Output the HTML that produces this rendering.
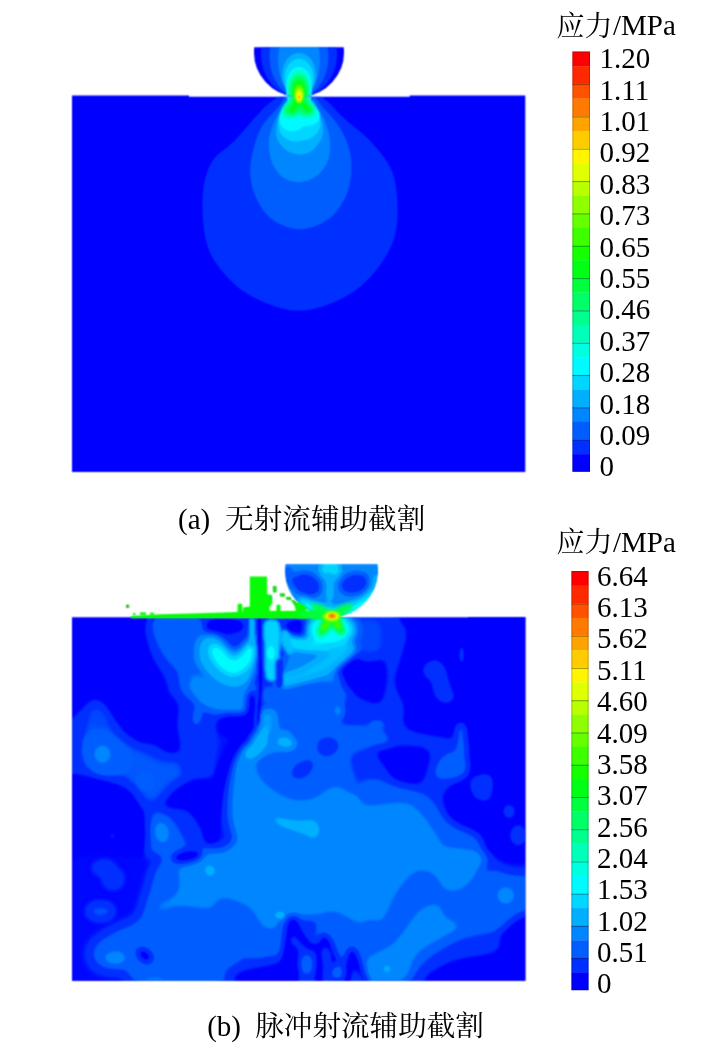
<!DOCTYPE html>
<html lang="zh"><head><meta charset="utf-8"><title>应力云图</title>
<style>
html,body{margin:0;padding:0;background:#fff}
body{width:707px;height:1055px;overflow:hidden;position:relative}
svg{position:absolute;left:0;top:0;display:block}
text{font-family:"Liberation Serif","Noto Serif CJK SC",serif;fill:#000}
</style></head><body>
<svg width="707" height="1055" viewBox="0 0 707 1055">
<defs>
<filter id="soft" x="0" y="0" width="707" height="1055" filterUnits="userSpaceOnUse" color-interpolation-filters="sRGB"><feConvolveMatrix order="3" kernelMatrix="1 2 1 2 4 2 1 2 1" divisor="16" edgeMode="none" preserveAlpha="false"/></filter>
<filter id="b1" x="0" y="0" width="707" height="1055" filterUnits="userSpaceOnUse" color-interpolation-filters="sRGB"><feGaussianBlur stdDeviation="1.2"/></filter>
<filter id="b3" x="0" y="0" width="707" height="1055" filterUnits="userSpaceOnUse" color-interpolation-filters="sRGB"><feGaussianBlur stdDeviation="3"/></filter>
<filter id="b5" x="0" y="0" width="707" height="1055" filterUnits="userSpaceOnUse" color-interpolation-filters="sRGB"><feGaussianBlur stdDeviation="5"/></filter>
<clipPath id="clipA"><path d="M72 95.6H189V96.7H409.7V95.6H525.3V472H72Z"/><path d="M254.25 47.2H343.75A45 45 0 1 1 254.25 47.2Z"/></clipPath>
<clipPath id="clipS"><path d="M285.47 564H377.53A46.5 46.5 0 1 1 285.47 564Z"/><rect x="326" y="614" width="15" height="4"/></clipPath>
<clipPath id="clipH"><path d="M285.47 564H377.53A46.5 46.5 0 1 1 285.47 564Z"/><rect x="72" y="617.5" width="453.6" height="363.3"/><rect x="290" y="605" width="40" height="14"/><rect x="326" y="614" width="15" height="4"/></clipPath>
<filter id="b2" x="0" y="0" width="707" height="1055" filterUnits="userSpaceOnUse" color-interpolation-filters="sRGB"><feGaussianBlur stdDeviation="2"/></filter>
<clipPath id="clipB"><path d="M72 617.6H468V616.9H525.4V980.8H72Z"/></clipPath>
<radialGradient id="lobe" cx="0.5" cy="0.5" r="0.5"><stop offset="0.000" stop-color="#00ff14"/><stop offset="0.350" stop-color="#00ff3d"/><stop offset="0.700" stop-color="#00ffb8"/><stop offset="1.000" stop-color="#00faff"/></radialGradient>
<radialGradient id="coreA" cx="0.5" cy="0.5" r="0.5" fx="0.52" fy="0.68"><stop offset="0" stop-color="#ff5500"/><stop offset="0.08" stop-color="#ffaa00"/><stop offset="0.22" stop-color="#ffff00"/><stop offset="0.5" stop-color="#aaff00"/><stop offset="0.8" stop-color="#33ff00"/><stop offset="1" stop-color="#00ff00" stop-opacity="0"/></radialGradient>
<radialGradient id="hotA" cx="0.5" cy="0.5" r="0.5" fx="0.5" fy="0.55">
<stop offset="0.000" stop-color="#14ff00"/><stop offset="0.400" stop-color="#00ff14"/><stop offset="0.620" stop-color="#00ff66"/><stop offset="0.800" stop-color="#00ffb8"/><stop offset="1.000" stop-color="#00faff"/>
</radialGradient>
</defs>

<clipPath id="sphA"><rect x="240" y="40" width="120" height="57"/></clipPath>
<g filter="url(#soft)"><g clip-path="url(#clipA)"><rect x="60" y="40" width="480" height="440" fill="#0000ff"/>
<path d="M278.4 96.8C273.6 99.9 268.9 103.1 261.5 110.4C254.2 117.8 242.5 132.4 234.3 140.9C226.1 149.4 217.4 152.8 212.2 161.3C207.0 169.8 204.4 179.9 203.1 191.8C201.8 203.7 202.6 221.3 204.4 232.6C206.2 243.9 208.4 250.6 213.9 259.7C219.4 268.8 228.6 279.5 237.7 286.9C246.8 294.3 258.1 299.9 268.3 303.9C278.5 307.8 288.6 310.6 298.8 310.6C309.0 310.6 319.2 307.8 329.4 303.9C339.6 299.9 350.8 294.3 359.9 286.9C368.9 279.5 377.8 268.8 383.7 259.7C389.6 250.6 393.2 242.8 395.5 232.6C397.8 222.4 398.0 209.3 397.2 198.6C396.4 187.8 395.0 177.7 390.5 168.1C386.0 158.5 378.0 149.4 370.1 140.9C362.2 132.4 350.2 124.0 342.9 117.2C335.5 110.4 331.5 104.4 326.0 100.2C320.5 96.0 316.0 93.4 310.0 92.0C304.0 90.6 295.3 91.2 290.0 92.0C284.7 92.8 283.1 93.7 278.4 96.8Z" fill="#0030ff"/>
<path d="M278.4 107.0C274.0 112.2 265.7 120.0 261.5 127.3C257.3 134.7 254.9 143.2 253.0 151.1C251.1 159.0 249.7 167.0 250.3 174.9C250.9 182.8 252.8 191.2 256.4 198.6C259.9 205.9 264.5 213.9 271.6 219.0C278.7 224.1 289.7 228.9 298.8 229.2C307.9 229.5 318.6 225.2 326.0 220.7C333.4 216.2 338.8 209.1 342.9 202.0C347.0 194.9 349.6 186.8 350.7 178.3C351.8 169.8 351.6 159.6 349.7 151.1C347.8 142.6 344.0 134.7 339.5 127.3C335.0 120.0 327.2 112.2 322.6 107.0C318.0 101.8 317.8 97.8 312.0 96.0C306.2 94.2 293.6 94.2 288.0 96.0C282.4 97.8 282.8 101.8 278.4 107.0Z" fill="#005eff"/>
<path d="M280.1 110.4C277.3 114.7 275.2 118.8 273.3 123.9C271.4 129.0 269.2 134.7 268.9 140.9C268.6 147.1 269.5 155.4 271.6 161.3C273.8 167.2 277.3 173.1 281.8 176.6C286.3 180.1 293.1 182.3 298.8 182.3C304.5 182.3 311.0 180.1 315.8 176.6C320.6 173.1 325.3 167.2 327.7 161.3C330.1 155.4 330.3 147.1 330.0 140.9C329.7 134.7 327.8 129.0 326.0 123.9C324.2 118.8 321.9 114.7 319.2 110.4C316.5 106.1 314.9 100.1 310.0 98.0C305.1 95.9 295.0 95.9 290.0 98.0C285.0 100.1 282.9 106.1 280.1 110.4Z" fill="#0086ff"/>
<path d="M282.0 108.0C279.6 112.3 277.6 119.0 276.7 123.9C275.8 128.8 275.3 133.2 276.7 137.5C278.1 141.8 281.5 146.6 285.2 149.4C288.9 152.2 294.3 154.3 298.8 154.5C303.3 154.7 308.5 153.2 312.4 150.4C316.2 147.6 320.2 141.9 321.9 137.5C323.6 133.1 323.4 128.8 322.6 123.9C321.8 119.0 319.4 112.3 317.0 108.0C314.6 103.7 312.3 99.7 308.0 98.0C303.7 96.3 295.3 96.3 291.0 98.0C286.7 99.7 284.4 103.7 282.0 108.0Z" fill="#00b0ff"/>
<path d="M283.0 110.0C280.9 114.0 278.7 118.0 278.4 122.0C278.1 126.0 279.1 130.9 281.0 134.0C282.9 137.1 286.8 139.3 290.0 140.5C293.2 141.7 296.5 141.4 300.0 141.0C303.5 140.6 307.8 139.8 311.0 138.0C314.2 136.2 317.5 133.0 319.0 130.0C320.5 127.0 320.5 123.3 320.0 120.0C319.5 116.7 318.0 113.7 316.0 110.0C314.0 106.3 312.2 100.0 308.0 98.0C303.8 96.0 295.2 96.0 291.0 98.0C286.8 100.0 285.1 106.0 283.0 110.0Z" fill="#00d6ff"/>
<path d="M285.0 106.0C282.8 109.2 280.0 112.5 279.5 116.0C279.0 119.5 280.2 124.5 282.0 127.0C283.8 129.5 287.3 130.5 290.0 131.0C292.7 131.5 295.5 130.8 298.0 130.0C300.5 129.2 302.5 126.8 305.0 126.0C307.5 125.2 310.7 126.0 313.0 125.0C315.3 124.0 318.0 122.2 319.0 120.0C320.0 117.8 320.0 114.5 319.0 112.0C318.0 109.5 315.2 107.5 313.0 105.0C310.8 102.5 309.3 98.3 306.0 97.0C302.7 95.7 296.5 95.5 293.0 97.0C289.5 98.5 287.2 102.8 285.0 106.0Z" fill="#00faff"/>
<ellipse cx="299.0" cy="55.0" rx="38.0" ry="42.0" fill="#0030ff" clip-path="url(#sphA)"/>
<ellipse cx="299.0" cy="57.0" rx="29.5" ry="40.0" fill="#005eff" clip-path="url(#sphA)"/>
<ellipse cx="299.0" cy="60.0" rx="21.0" ry="37.0" fill="#0086ff" clip-path="url(#sphA)"/>
<ellipse cx="299.0" cy="75.0" rx="17.0" ry="22.3" fill="#00b0ff" clip-path="url(#sphA)"/>
<ellipse cx="299.0" cy="78.0" rx="14.5" ry="19.3" fill="#00d6ff" clip-path="url(#sphA)"/>
<ellipse cx="299.0" cy="82.0" rx="12.0" ry="15.0" fill="#00faff" clip-path="url(#sphA)"/>
<ellipse cx="299" cy="90" rx="13" ry="22" fill="url(#hotA)"/>
<g filter="url(#b1)"><path d="M292.0 96.0C289.1 96.8 290.3 99.3 289.0 101.0C287.7 102.7 285.2 104.2 284.0 106.0C282.8 107.8 281.5 110.2 281.5 112.0C281.5 113.8 282.4 115.9 284.0 117.0C285.6 118.1 288.5 118.5 291.0 118.5C293.5 118.5 296.3 117.1 299.0 117.0C301.7 116.9 304.5 118.1 307.0 118.0C309.5 117.9 312.3 117.7 314.0 116.5C315.7 115.3 317.0 112.9 317.0 111.0C317.0 109.1 315.3 106.8 314.0 105.0C312.7 103.2 310.2 101.5 309.0 100.0C307.8 98.5 309.3 96.7 306.5 96.0C303.7 95.3 294.9 95.2 292.0 96.0Z" fill="#00ffb8"/><path d="M293.0 97.0C290.5 97.7 291.6 99.6 290.5 101.0C289.4 102.4 287.5 104.0 286.5 105.5C285.5 107.0 284.5 108.7 284.5 110.0C284.5 111.3 285.2 112.7 286.5 113.5C287.8 114.3 289.9 115.2 292.0 115.0C294.1 114.8 296.7 112.6 299.0 112.5C301.3 112.4 303.9 114.4 306.0 114.5C308.1 114.6 310.3 113.9 311.5 113.0C312.7 112.1 313.1 110.4 313.0 109.0C312.9 107.6 311.9 105.9 311.0 104.5C310.1 103.1 308.4 101.8 307.5 100.5C306.6 99.2 307.9 97.6 305.5 97.0C303.1 96.4 295.5 96.3 293.0 97.0Z" fill="#00ff66"/><path d="M297.0 99.0C296.1 99.2 295.2 101.5 294.0 103.0C292.8 104.5 290.8 106.5 290.0 108.0C289.2 109.5 288.9 111.2 289.5 112.0C290.1 112.8 292.2 113.2 293.5 112.5C294.8 111.8 296.0 109.8 297.0 108.0C298.0 106.2 299.5 103.5 299.5 102.0C299.5 100.5 297.9 98.8 297.0 99.0Z" fill="#00ff14"/><path d="M300.0 99.0C299.1 99.1 299.0 101.5 299.5 103.0C300.0 104.5 301.8 106.4 303.0 108.0C304.2 109.6 305.8 111.9 307.0 112.5C308.2 113.1 309.7 112.3 310.0 111.5C310.3 110.7 309.8 109.0 309.0 107.5C308.2 106.0 306.5 103.9 305.0 102.5C303.5 101.1 300.9 98.9 300.0 99.0Z" fill="#00ff14"/></g>
<ellipse cx="299" cy="93.5" rx="6.5" ry="11.5" fill="url(#coreA)"/></g></g>
<defs><filter id="cmB" x="0" y="0" width="707" height="1055" filterUnits="userSpaceOnUse" color-interpolation-filters="sRGB">
<feComponentTransfer><feFuncR type="table" tableValues="0.0000 0.0000 0.0000 0.0000 0.0000 0.0000 0.0000 0.0000 0.0000 0.0000 0.0000 0.0000 0.0000 0.0000 0.0000 0.0000 0.0000 0.0000 0.0000 0.0000 0.0000 0.0000 0.0000 0.0000 0.0000 0.0000 0.0000 0.0000 0.0000 0.0000 0.0000 0.0000"/><feFuncG type="table" tableValues="0.0000 0.0000 0.0000 0.0000 0.1882 0.1882 0.1882 0.1882 0.3686 0.3686 0.3686 0.3686 0.5255 0.5255 0.5255 0.5255 0.6902 0.6902 0.6902 0.6902 0.8392 0.8392 0.8392 0.8392 0.9804 0.9804 0.9804 0.9804 1.0000 1.0000 1.0000 1.0000"/><feFuncB type="table" tableValues="1.0000 1.0000 1.0000 1.0000 1.0000 1.0000 1.0000 1.0000 1.0000 1.0000 1.0000 1.0000 1.0000 1.0000 1.0000 1.0000 1.0000 1.0000 1.0000 1.0000 1.0000 1.0000 1.0000 1.0000 1.0000 1.0000 1.0000 1.0000 0.8784 0.8784 0.8784 0.8784"/></feComponentTransfer>
<feConvolveMatrix order="3" kernelMatrix="1 2 1 2 4 2 1 2 1" divisor="16" edgeMode="none" preserveAlpha="false"/></filter></defs>
<g filter="url(#cmB)"><g clip-path="url(#clipB)">
<rect x="60" y="600" width="480" height="400" fill="#0c0c0c"/>
<g filter="url(#b5)"><rect x="60" y="600" width="480" height="400" fill="#2d2d2d"/>
<path d="M61.0 610.0C74.9 592.3 130.5 606.2 144.7 610.0C158.8 613.8 144.3 624.3 145.8 632.6C147.3 640.9 150.5 652.2 153.7 659.8C156.9 667.3 162.4 671.1 165.0 677.9C167.7 684.7 168.4 691.3 169.5 700.5C170.7 709.7 177.1 725.8 171.8 733.3C166.5 740.8 146.2 745.9 137.9 745.7C129.6 745.6 125.8 737.1 122.0 732.2C118.3 727.3 117.9 721.6 115.2 716.3C112.6 711.1 110.3 703.1 106.2 700.5C102.1 697.9 94.9 698.6 90.4 700.5C85.8 702.4 84.0 709.2 79.0 711.8C74.1 714.4 64.0 733.3 61.0 716.3C57.9 699.4 47.0 627.7 61.0 610.0Z" fill="#0c0c0c"/>
<path d="M151.4 616.8C157.1 613.4 180.1 613.4 187.6 616.8C195.2 620.2 195.9 630.0 196.7 637.1C197.5 644.3 195.6 654.5 192.2 659.8C188.8 665.1 181.2 669.6 176.3 668.8C171.4 668.1 166.5 660.5 162.8 655.2C159.0 650.0 155.6 643.6 153.7 637.1C151.8 630.7 145.8 620.2 151.4 616.8Z" fill="#4b4b4b"/>
<path d="M182.3 623.6C186.0 614.1 198.5 619.0 202.6 621.3C206.8 623.6 206.8 629.6 207.1 637.1C207.5 644.7 205.6 657.9 204.9 666.6C204.1 675.2 205.6 684.3 202.6 689.2C199.6 694.1 190.6 697.9 186.8 696.0C183.0 694.1 180.8 689.9 180.0 677.9C179.2 665.8 178.5 633.0 182.3 623.6Z" fill="#585858"/>
<path d="M193.6 677.9C196.6 675.6 203.4 676.0 209.4 677.9C215.4 679.8 223.4 688.1 229.8 689.2C236.2 690.3 243.7 684.7 247.9 684.7C252.0 684.7 253.5 684.7 254.7 689.2C255.8 693.7 257.7 707.3 254.7 711.8C251.6 716.3 243.3 716.3 236.6 716.3C229.8 716.3 220.3 713.7 213.9 711.8C207.5 709.9 201.9 708.4 198.1 705.0C194.3 701.6 192.1 696.0 191.3 691.4C190.6 686.9 190.6 680.1 193.6 677.9Z" fill="#6f6f6f"/>
<path d="M286.3 655.2C288.8 650.0 292.7 643.6 297.6 641.7C302.5 639.8 308.2 643.9 315.7 643.9C323.3 643.9 338.4 634.9 342.9 641.7C347.4 648.5 347.4 677.1 342.9 684.7C338.4 692.2 324.8 686.9 315.7 686.9C306.7 686.9 294.1 686.9 288.6 684.7C283.1 682.4 283.3 678.3 282.9 673.3C282.6 668.4 283.9 660.5 286.3 655.2Z" fill="#6f6f6f"/>
<path d="M266.0 686.9C278.8 683.9 330.1 682.4 342.9 684.7C355.7 686.9 355.7 697.5 342.9 700.5C330.1 703.5 278.8 705.0 266.0 702.8C253.2 700.5 253.2 689.9 266.0 686.9Z" fill="#4e4e4e"/>
<path d="M339.9 657.5C347.5 654.5 375.7 648.1 382.9 655.2C390.1 662.4 385.9 693.0 382.9 700.5C379.9 708.0 370.8 702.4 364.8 700.5C358.8 698.6 351.2 693.7 346.7 689.2C342.2 684.7 338.8 678.6 337.6 673.3C336.5 668.1 332.4 660.5 339.9 657.5Z" fill="#0c0c0c"/>
<path d="M346.7 619.0C351.2 613.0 376.9 613.0 382.9 619.0C388.9 625.1 387.4 649.2 382.9 655.2C378.4 661.3 361.8 661.3 355.7 655.2C349.7 649.2 342.2 625.1 346.7 619.0Z" fill="#3e3e3e"/>
<path d="M406.2 610.0C427.1 606.2 511.8 589.6 532.9 610.0C554.0 630.4 552.5 711.8 532.9 732.2C513.3 752.5 436.7 736.7 415.2 732.2C393.8 727.6 407.3 713.3 403.9 705.0C400.5 696.7 395.3 690.7 394.9 682.4C394.5 674.1 399.6 663.5 401.7 655.2C403.7 647.0 406.6 640.2 407.3 632.6C408.1 625.1 385.3 613.8 406.2 610.0Z" fill="#0c0c0c"/>
<path d="M280.0 685.6C289.4 675.8 326.0 681.1 336.6 683.3C347.1 685.6 343.0 692.8 343.3 699.2C343.7 705.6 340.0 714.6 338.8 721.8C337.7 729.0 346.4 738.8 336.6 742.2C326.8 745.6 289.4 751.6 280.0 742.2C270.6 732.7 270.6 695.4 280.0 685.6Z" fill="#4e4e4e"/>
<path d="M104.1 696.6C113.7 692.6 159.9 691.5 172.0 696.6C184.2 701.7 175.7 718.1 177.1 727.2C178.5 736.2 181.9 746.4 180.5 750.9C179.1 755.4 174.6 756.6 168.6 754.3C162.7 752.0 153.9 743.0 144.9 737.3C135.8 731.7 121.1 727.2 114.3 720.4C107.5 713.6 94.5 700.6 104.1 696.6Z" fill="#0c0c0c"/>
<path d="M80.4 740.7C81.5 731.1 86.6 715.8 90.5 710.2C94.5 704.5 100.2 704.0 104.1 706.8C108.1 709.6 108.7 720.9 114.3 727.2C120.0 733.4 130.2 739.0 138.1 744.1C146.0 749.2 155.0 755.4 161.8 757.7C168.6 760.0 174.8 754.3 178.8 757.7C182.8 761.1 186.7 773.0 185.6 778.1C184.5 783.2 176.0 784.3 172.0 788.3C168.1 792.2 167.5 799.6 161.8 801.8C156.2 804.1 144.9 805.8 138.1 801.8C131.3 797.9 130.2 783.7 121.1 778.1C112.0 772.4 90.5 774.1 83.8 767.9C77.0 761.7 79.2 750.4 80.4 740.7Z" fill="#414141"/>
<path d="M161.8 801.8C164.7 797.3 176.0 784.9 185.6 781.5C195.2 778.1 213.3 776.4 219.5 781.5C225.8 786.6 224.1 801.8 222.9 812.0C221.8 822.2 218.4 842.6 212.7 842.6C207.1 842.6 196.3 817.7 189.0 812.0C181.6 806.4 173.1 810.3 168.6 808.6C164.1 806.9 159.0 806.4 161.8 801.8Z" fill="#0c0c0c"/>
<path d="M49.8 781.5C61.7 763.9 105.8 780.9 121.1 784.9C136.4 788.8 136.9 796.7 141.5 805.2C146.0 813.7 147.7 821.6 148.3 835.8C148.8 849.9 161.3 881.0 144.9 890.1C128.5 899.1 65.7 908.2 49.8 890.1C34.0 872.0 37.9 799.0 49.8 781.5Z" fill="#0c0c0c"/>
<path d="M151.6 813.7C155.0 810.3 163.0 810.6 168.6 815.4C174.3 820.2 182.2 834.6 185.6 842.6C189.0 850.5 194.6 859.5 189.0 862.9C183.3 866.3 158.4 867.5 151.6 862.9C144.9 858.4 148.3 844.0 148.3 835.8C148.3 827.6 148.3 817.1 151.6 813.7Z" fill="#4e4e4e"/>
<path d="M233.6 752.6C238.5 747.3 253.2 747.3 260.7 743.6C268.3 739.8 269.0 732.3 278.8 730.0C288.6 727.7 313.5 726.2 319.5 730.0C325.6 733.8 312.0 743.6 315.0 752.6C318.0 761.7 326.3 775.6 337.6 784.3C349.0 793.0 375.4 793.2 382.9 804.7C390.4 816.2 406.3 845.2 382.9 853.3C359.5 861.4 268.3 858.8 242.6 853.3C217.0 847.8 230.9 833.5 229.0 820.5C227.2 807.5 230.6 786.6 231.3 775.2C232.1 763.9 228.7 757.9 233.6 752.6Z" fill="#6f6f6f"/>
<path d="M294.7 730.0C309.4 727.0 368.2 720.6 382.9 730.0C397.6 739.4 387.4 777.1 382.9 786.6C378.4 796.0 364.0 786.6 355.7 786.6C347.5 786.6 339.9 784.7 333.1 786.6C326.3 788.4 321.4 795.6 315.0 797.9C308.6 800.1 301.4 801.3 294.7 800.1C287.9 799.0 280.3 795.2 274.3 791.1C268.3 786.9 261.3 780.5 258.5 775.2C255.6 770.0 254.7 763.2 257.3 759.4C260.0 755.6 268.1 754.5 274.3 752.6C280.5 750.7 291.3 751.9 294.7 748.1C298.1 744.3 280.0 733.0 294.7 730.0Z" fill="#4e4e4e"/>
<path d="M215.5 725.5C221.9 704.2 247.9 722.5 253.9 725.5C260.0 728.5 255.1 739.0 251.7 743.6C248.3 748.1 237.7 747.3 233.6 752.6C229.4 757.9 227.5 763.9 226.8 775.2C226.0 786.6 227.2 807.5 229.0 820.5C230.9 833.5 240.4 847.8 238.1 853.3C235.8 858.8 219.2 874.6 215.5 853.3C211.7 832.0 209.1 746.8 215.5 725.5Z" fill="#1d1d1d"/>
<path d="M351.2 752.6C356.5 748.9 377.6 742.4 382.9 748.1C388.2 753.8 386.7 780.2 382.9 786.6C379.1 793.0 365.6 789.2 360.3 786.6C355.0 783.9 352.7 776.4 351.2 770.7C349.7 765.1 345.9 756.4 351.2 752.6Z" fill="#343434"/>
<path d="M363.2 804.7C370.0 796.2 394.5 801.3 403.9 802.4C413.4 803.5 414.1 805.8 419.8 811.4C425.4 817.1 433.3 829.4 437.9 836.3C442.4 843.3 459.4 850.5 446.9 853.3C434.5 856.1 377.2 861.4 363.2 853.3C349.3 845.2 356.4 813.1 363.2 804.7Z" fill="#6f6f6f"/>
<path d="M363.2 782.0C368.1 778.6 382.1 782.0 392.6 784.3C403.2 786.6 417.1 789.6 426.6 795.6C436.0 801.6 440.5 813.7 449.2 820.5C457.9 827.3 472.2 830.9 478.6 836.3C485.0 841.8 492.9 850.5 487.6 853.3C482.4 856.1 455.2 856.1 446.9 853.3C438.6 850.5 442.4 843.3 437.9 836.3C433.3 829.4 425.4 817.1 419.8 811.4C414.1 805.8 413.4 803.5 403.9 802.4C394.5 801.3 370.0 808.1 363.2 804.7C356.4 801.3 358.3 785.4 363.2 782.0Z" fill="#4e4e4e"/>
<path d="M376.8 748.1C384.3 745.5 418.3 744.3 426.6 748.1C434.9 751.9 427.7 764.7 426.6 770.7C425.4 776.8 424.7 782.4 419.8 784.3C414.9 786.2 403.6 785.4 397.1 782.0C390.7 778.6 384.7 769.6 381.3 763.9C377.9 758.3 369.2 750.7 376.8 748.1Z" fill="#0c0c0c"/>
<path d="M465.0 725.5C476.0 721.0 521.6 704.2 532.9 725.5C544.2 746.8 540.4 832.0 532.9 853.3C525.4 874.6 496.7 856.1 487.6 853.3C478.6 850.5 485.0 841.8 478.6 836.3C472.2 830.9 455.2 826.9 449.2 820.5C443.2 814.1 442.4 803.5 442.4 797.9C442.4 792.2 445.0 790.3 449.2 786.6C453.3 782.8 464.3 780.9 467.3 775.2C470.3 769.6 467.7 760.9 467.3 752.6C466.9 744.3 454.1 730.0 465.0 725.5Z" fill="#0c0c0c"/>
<path d="M63.2 858.2C80.2 837.5 151.1 852.2 165.0 858.2C179.0 864.2 151.4 884.6 146.9 894.4C142.4 904.2 143.2 911.4 137.9 917.0C132.6 922.7 122.8 923.8 115.2 928.3C107.7 932.9 96.8 938.9 92.6 944.2C88.5 949.5 88.5 955.5 90.4 960.0C92.2 964.5 97.9 969.1 103.9 971.3C110.0 973.6 120.9 971.7 126.6 973.6C132.2 975.5 148.4 981.1 137.9 982.6C127.3 984.2 75.7 1003.4 63.2 982.6C50.8 961.9 46.2 879.0 63.2 858.2Z" fill="#1a1a1a"/>
<path d="M165.0 858.2C179.4 852.2 221.6 837.5 232.9 858.2C244.2 879.0 248.7 961.9 232.9 982.6C217.1 1003.4 155.6 984.5 137.9 982.6C120.2 980.8 132.2 973.6 126.6 971.3C120.9 969.1 109.6 971.0 103.9 969.1C98.3 967.2 94.1 964.2 92.6 960.0C91.1 955.9 91.1 949.1 94.9 944.2C98.7 939.3 108.1 934.8 115.2 930.6C122.4 926.5 132.6 925.3 137.9 919.3C143.2 913.3 142.4 904.6 146.9 894.4C151.4 884.2 150.7 864.2 165.0 858.2Z" fill="#4e4e4e"/>
<path d="M183.1 858.2C192.2 852.6 224.6 850.3 232.9 858.2C241.2 866.1 241.9 897.8 232.9 905.7C223.8 913.6 189.9 905.0 178.6 905.7C167.3 906.5 169.2 909.5 165.0 910.2C160.9 911.0 154.5 911.4 153.7 910.2C153.0 909.1 156.3 906.5 160.5 903.5C164.6 900.4 174.8 899.7 178.6 892.1C182.4 884.6 174.1 863.9 183.1 858.2Z" fill="#6f6f6f"/>
<path d="M215.5 851.4C243.4 843.1 355.0 840.5 382.9 851.4C410.8 862.4 386.7 905.0 382.9 917.0C379.1 929.1 367.8 924.6 360.3 923.8C352.7 923.1 344.4 913.6 337.6 912.5C330.9 911.4 328.2 915.9 319.5 917.0C310.9 918.2 293.5 917.0 285.6 919.3C277.7 921.6 276.2 929.9 272.0 930.6C267.9 931.4 264.9 928.0 260.7 923.8C256.6 919.7 254.7 909.5 247.1 905.7C239.6 902.0 220.8 910.2 215.5 901.2C210.2 892.1 187.6 859.7 215.5 851.4Z" fill="#6f6f6f"/>
<path d="M215.5 901.2C220.8 892.1 239.6 902.0 247.1 905.7C254.7 909.5 256.6 919.7 260.7 923.8C264.9 928.0 268.3 931.0 272.0 930.6C275.8 930.2 281.5 916.7 283.3 921.6C285.2 926.5 292.4 954.4 283.3 960.0C274.3 965.7 240.4 955.5 229.0 955.5C217.7 955.5 217.7 969.1 215.5 960.0C213.2 951.0 210.2 910.2 215.5 901.2Z" fill="#4e4e4e"/>
<path d="M319.5 917.0C322.6 909.9 330.9 911.4 337.6 912.5C344.4 913.6 352.7 923.1 360.3 923.8C367.8 924.6 379.1 911.8 382.9 917.0C386.7 922.3 393.5 949.1 382.9 955.5C372.3 961.9 330.1 961.9 319.5 955.5C309.0 949.1 316.5 924.2 319.5 917.0Z" fill="#4e4e4e"/>
<path d="M229.0 967.9C233.2 963.9 245.3 961.8 253.9 960.0C262.6 958.1 275.8 955.2 281.1 956.6C286.4 957.9 284.5 963.3 285.6 967.9C286.7 972.4 297.3 981.1 287.9 983.7C278.4 986.3 238.9 986.3 229.0 983.7C219.2 981.1 224.9 971.8 229.0 967.9Z" fill="#2a2a2a"/>
<path d="M367.1 955.5C369.7 950.2 380.3 946.4 382.9 951.0C385.5 955.5 385.5 977.4 382.9 982.6C380.3 987.9 369.7 987.2 367.1 982.6C364.4 978.1 364.4 960.8 367.1 955.5Z" fill="#6f6f6f"/>
<path d="M365.5 851.4C384.3 839.7 460.5 846.9 478.6 851.4C496.7 856.0 477.1 872.2 474.1 878.6C471.1 885.0 465.4 888.0 460.5 889.9C455.6 891.8 449.2 892.5 444.7 889.9C440.1 887.2 438.3 877.1 433.3 874.0C428.4 871.0 421.3 868.8 415.2 871.8C409.2 874.8 402.8 883.9 397.1 892.1C391.5 900.4 386.6 916.7 381.3 921.6C376.0 926.5 368.1 933.3 365.5 921.6C362.8 909.9 346.6 863.1 365.5 851.4Z" fill="#6f6f6f"/>
<path d="M415.2 871.8C421.3 868.8 428.4 871.0 433.3 874.0C438.3 877.1 440.1 887.2 444.7 889.9C449.2 892.5 455.6 891.8 460.5 889.9C465.4 888.0 468.0 882.0 474.1 878.6C480.1 875.2 487.6 870.7 496.7 869.5C505.7 868.4 523.1 863.9 528.4 871.8C533.7 879.7 532.9 907.2 528.4 917.0C523.8 926.8 512.5 926.8 501.2 930.6C489.9 934.4 472.9 934.8 460.5 939.7C448.1 944.6 436.0 952.9 426.6 960.0C417.1 967.2 414.1 978.9 403.9 982.6C393.8 986.4 371.9 992.8 365.5 982.6C359.1 972.5 362.8 931.7 365.5 921.6C368.1 911.4 376.0 926.5 381.3 921.6C386.6 916.7 391.5 900.4 397.1 892.1C402.8 883.9 409.2 874.8 415.2 871.8Z" fill="#4e4e4e"/>
<path d="M419.8 910.2C424.3 907.2 433.7 902.3 437.9 903.5C442.0 904.6 440.9 913.3 444.7 917.0C448.4 920.8 461.6 922.3 460.5 926.1C459.4 929.9 445.4 934.8 437.9 939.7C430.3 944.6 420.9 948.3 415.2 955.5C409.6 962.7 412.2 978.1 403.9 982.6C395.6 987.2 371.9 986.4 365.5 982.6C359.1 978.9 361.0 966.4 365.5 960.0C370.0 953.6 385.1 950.6 392.6 944.2C400.2 937.8 406.2 927.2 410.7 921.6C415.2 915.9 415.2 913.3 419.8 910.2Z" fill="#6f6f6f"/>
<path d="M426.6 984.9C412.6 981.1 437.5 967.9 449.2 962.3C460.9 956.6 488.0 956.3 496.7 951.0C505.4 945.7 495.2 936.6 501.2 930.6C507.3 924.6 527.6 905.7 532.9 914.8C538.2 923.8 550.6 973.2 532.9 984.9C515.2 996.6 440.5 988.7 426.6 984.9Z" fill="#0c0c0c"/>
<path d="M496.7 858.2C501.2 856.0 526.9 856.0 532.9 858.2C538.9 860.5 537.4 869.5 532.9 871.8C528.4 874.0 511.8 874.0 505.7 871.8C499.7 869.5 492.2 860.5 496.7 858.2Z" fill="#1a1a1a"/>
<path d="M189.0 885.0C177.7 880.8 190.1 865.5 195.8 859.5C201.4 853.6 215.0 853.3 222.9 849.4C230.9 845.4 236.5 836.9 243.3 835.8C250.1 834.6 260.3 834.4 263.7 842.6C267.1 850.8 276.1 877.9 263.7 885.0C251.2 892.1 200.3 889.2 189.0 885.0Z" fill="#6f6f6f"/></g>
<g filter="url(#b3)"><ellipse cx="98.3" cy="718.6" rx="9.0" ry="11.3" fill="#3e3e3e" transform="rotate(-35 98.3 718.6)"/>
<path d="M200.4 639.4C203.4 635.3 210.5 633.0 216.2 634.9C221.9 636.8 229.0 650.0 234.3 650.7C239.6 651.5 244.3 641.7 247.9 639.4C251.5 637.1 254.5 632.6 255.8 637.1C257.1 641.7 257.1 658.6 255.8 666.6C254.5 674.5 252.2 680.9 247.9 684.7C243.5 688.4 236.2 690.3 229.8 689.2C223.4 688.1 214.7 682.8 209.4 677.9C204.1 673.0 199.6 666.2 198.1 659.8C196.6 653.4 197.3 643.6 200.4 639.4Z" fill="#909090"/>
<path d="M210.5 646.2C212.0 644.4 217.0 645.1 220.7 647.3C224.5 649.6 229.2 659.2 233.2 659.8C237.1 660.3 241.7 653.4 244.5 650.7C247.3 648.0 248.4 644.0 250.1 643.5C251.9 642.9 254.8 644.3 255.1 647.3C255.4 650.3 254.2 657.4 251.9 661.6C249.7 665.7 245.0 670.1 241.5 672.2C238.0 674.4 234.4 675.0 230.9 674.5C227.4 673.9 223.9 671.6 220.7 668.8C217.6 666.1 213.8 661.7 212.1 658.0C210.4 654.2 209.1 648.0 210.5 646.2Z" fill="#d8d8d8"/>
<ellipse cx="224.1" cy="626.3" rx="20.4" ry="8.1" fill="#0c0c0c"/>
<ellipse cx="296.5" cy="627.6" rx="11.3" ry="7.7" fill="#0c0c0c"/>
<path d="M220.7 716.3C226.4 713.3 248.8 712.4 254.7 715.2C260.5 718.0 261.4 730.3 255.8 733.3C250.1 736.3 226.6 736.1 220.7 733.3C214.9 730.5 215.1 719.4 220.7 716.3Z" fill="#131313"/>
<ellipse cx="197.0" cy="716.3" rx="3.4" ry="9.5" fill="#6f6f6f" transform="rotate(8 197.0 716.3)"/>
<path d="M259.2 711.8C261.8 707.9 272.2 706.0 275.0 709.5C277.9 713.1 278.8 729.3 276.2 733.3C273.5 737.3 262.0 736.9 259.2 733.3C256.4 729.7 256.5 715.8 259.2 711.8Z" fill="#808080"/>
<ellipse cx="331.0" cy="630.0" rx="26.0" ry="19.0" fill="#a0a0a0"/>
<ellipse cx="330.0" cy="629.0" rx="20.0" ry="14.0" fill="#dcdcdc"/>
<ellipse cx="337.6" cy="709.5" rx="4.5" ry="6.8" fill="#626262"/>
<path d="M437.9 660.9C441.1 661.7 442.8 664.9 444.7 668.8C446.5 672.8 447.7 679.8 449.2 684.7C450.7 689.6 454.5 695.2 453.7 698.2C453.0 701.3 447.7 703.1 444.7 702.8C441.6 702.4 437.9 699.7 435.6 696.0C433.3 692.2 433.0 683.5 431.1 680.1C429.2 676.7 425.2 678.3 424.3 675.6C423.4 673.0 423.2 666.7 425.4 664.3C427.7 661.8 434.7 660.2 437.9 660.9Z" fill="#343434"/>
<path d="M347.9 640.4C351.1 641.7 358.4 645.5 355.8 650.5C353.2 655.6 340.9 665.6 332.0 670.9C323.2 676.2 311.3 679.6 302.6 682.2C294.0 684.9 283.8 688.1 280.0 686.7C276.2 685.4 277.0 677.1 280.0 674.3C283.0 671.5 291.3 672.8 298.1 669.8C304.9 666.8 314.3 660.7 320.7 656.2C327.1 651.7 332.0 645.3 336.6 642.6C341.1 640.0 344.7 639.0 347.9 640.4Z" fill="#a0a0a0"/>
<path d="M280.0 632.4C283.0 630.9 295.1 637.0 302.6 638.1C310.2 639.2 321.5 637.2 325.2 639.2C329.0 641.3 329.0 648.7 325.2 650.5C321.5 652.4 309.4 651.1 302.6 650.5C295.8 650.0 288.3 650.2 284.5 647.1C280.8 644.1 277.0 634.0 280.0 632.4Z" fill="#c1c1c1"/>
<ellipse cx="338.8" cy="711.6" rx="4.1" ry="6.3" fill="#6f6f6f"/>
<ellipse cx="377.3" cy="724.1" rx="9.0" ry="4.1" fill="#4e4e4e"/>
<ellipse cx="295.8" cy="630.2" rx="9.5" ry="6.3" fill="#0c0c0c"/>
<path d="M85.5 744.1C86.0 737.9 92.5 734.5 97.3 733.9C102.1 733.4 109.2 736.8 114.3 740.7C119.4 744.7 127.3 752.3 127.9 757.7C128.5 763.1 123.4 770.7 117.7 773.0C112.0 775.2 99.3 776.1 93.9 771.3C88.6 766.5 84.9 750.4 85.5 744.1Z" fill="#555555"/>
<ellipse cx="102.4" cy="754.3" rx="6.8" ry="7.5" fill="#767676"/>
<ellipse cx="144.9" cy="781.5" rx="4.4" ry="5.1" fill="#686868"/>
<ellipse cx="197.5" cy="715.3" rx="3.7" ry="10.2" fill="#555555" transform="rotate(5 197.5 715.3)"/>
<ellipse cx="112.6" cy="835.8" rx="3.4" ry="4.8" fill="#2d2d2d"/>
<ellipse cx="104.1" cy="868.0" rx="10.2" ry="6.1" fill="#343434"/>
<ellipse cx="161.8" cy="832.4" rx="7.5" ry="10.9" fill="#6f6f6f" transform="rotate(-10 161.8 832.4)"/>
<ellipse cx="187.3" cy="856.1" rx="15.3" ry="6.8" fill="#0c0c0c" transform="rotate(-10 187.3 856.1)"/>
<path d="M274.3 817.1C277.9 817.1 287.9 819.9 294.7 820.5C301.4 821.1 310.9 818.6 315.0 820.5C319.2 822.4 319.5 828.8 319.5 831.8C319.5 834.8 317.7 838.2 315.0 838.6C312.4 839.0 309.0 836.0 303.7 834.1C298.4 832.2 288.4 829.5 283.3 827.3C278.3 825.0 274.7 822.2 273.2 820.5C271.7 818.8 270.7 817.1 274.3 817.1Z" fill="#909090"/>
<ellipse cx="251.7" cy="751.5" rx="9.0" ry="6.8" fill="#909090" transform="rotate(-30 251.7 751.5)"/>
<ellipse cx="285.6" cy="742.4" rx="10.2" ry="5.7" fill="#909090" transform="rotate(10 285.6 742.4)"/>
<path d="M319.5 741.3C321.8 739.0 330.1 737.9 333.1 739.0C336.1 740.2 338.4 745.5 337.6 748.1C336.9 750.7 331.6 754.1 328.6 754.9C325.6 755.6 321.1 754.9 319.5 752.6C318.0 750.4 317.3 743.6 319.5 741.3Z" fill="#202020"/>
<path d="M294.7 766.2C297.7 763.2 307.5 759.0 310.5 759.4C313.5 759.8 313.9 765.4 312.8 768.5C311.6 771.5 307.1 776.0 303.7 777.5C300.3 779.0 293.9 779.4 292.4 777.5C290.9 775.6 291.6 769.2 294.7 766.2Z" fill="#2d2d2d"/>
<path d="M444.7 754.9C449.2 752.2 459.2 750.0 462.8 752.6C466.3 755.3 467.3 766.6 466.2 770.7C465.0 774.9 460.7 776.2 456.0 777.5C451.3 778.8 441.3 780.2 437.9 778.6C434.5 777.1 434.5 772.4 435.6 768.5C436.7 764.5 440.1 757.5 444.7 754.9Z" fill="#4e4e4e"/>
<path d="M474.1 777.5C477.3 775.6 486.9 773.4 489.9 775.2C492.9 777.1 492.5 784.7 492.2 788.8C491.8 793.0 490.3 798.6 487.6 800.1C485.0 801.6 479.2 800.1 476.3 797.9C473.5 795.6 471.1 790.0 470.7 786.6C470.3 783.2 470.9 779.4 474.1 777.5Z" fill="#343434"/>
<ellipse cx="509.1" cy="811.4" rx="5.7" ry="6.8" fill="#343434"/>
<ellipse cx="518.2" cy="835.2" rx="7.9" ry="10.2" fill="#343434"/>
<ellipse cx="210.3" cy="871.8" rx="5.7" ry="5.0" fill="#909090"/>
<ellipse cx="113.0" cy="878.6" rx="9.0" ry="9.0" fill="#343434"/>
<ellipse cx="100.5" cy="911.4" rx="12.4" ry="7.9" fill="#414141"/>
<ellipse cx="115.2" cy="957.8" rx="11.3" ry="6.8" fill="#6f6f6f"/>
<ellipse cx="144.7" cy="955.5" rx="9.0" ry="5.7" fill="#0c0c0c" transform="rotate(40 144.7 955.5)"/>
<ellipse cx="153.7" cy="979.3" rx="15.8" ry="2.7" fill="#6f6f6f"/>
<path d="M238.1 972.4C242.6 969.4 257.7 967.1 265.2 965.6C272.8 964.1 279.6 960.3 283.3 963.3C287.1 966.4 295.4 980.3 287.9 983.7C280.3 987.1 246.4 985.6 238.1 983.7C229.8 981.8 233.6 975.4 238.1 972.4Z" fill="#131313"/>
<path d="M281.5 982.6C282.4 976.4 284.9 955.7 286.7 945.2C288.6 934.8 290.2 921.6 292.4 919.9C294.5 918.2 296.6 930.7 299.6 935.1C302.7 939.5 307.2 944.5 310.5 946.4C313.8 948.3 317.2 947.8 319.5 946.4C321.9 945.0 322.3 936.3 324.5 938.0C326.8 939.7 330.9 949.1 333.1 956.6C335.4 964.0 337.3 978.2 338.1 982.6" fill="none" stroke="#0c0c0c" stroke-width="7.5" stroke-linecap="round" stroke-linejoin="round"/>
<path d="M319.5 946.4C319.4 952.4 318.8 976.5 318.6 982.6" fill="none" stroke="#0c0c0c" stroke-width="7.5" stroke-linecap="round" stroke-linejoin="round"/>
<path d="M347.1 982.6C347.8 977.4 349.3 954.0 351.2 951.6C353.1 949.1 356.2 962.7 358.5 967.9C360.7 973.0 363.7 980.1 364.8 982.6" fill="none" stroke="#0c0c0c" stroke-width="7.0" stroke-linecap="round" stroke-linejoin="round"/>
<path d="M287.9 952.0C289.4 945.8 292.8 944.5 294.7 945.2C296.5 946.0 298.6 950.3 299.2 956.6C299.8 962.8 300.3 978.2 298.1 982.6C295.8 986.9 287.3 987.7 285.6 982.6C283.9 977.5 286.4 958.3 287.9 952.0Z" fill="#0c0c0c"/>
<ellipse cx="306.4" cy="964.5" rx="6.3" ry="9.5" fill="#5b5b5b"/>
<ellipse cx="337.6" cy="972.4" rx="5.7" ry="7.9" fill="#555555"/>
<ellipse cx="387.0" cy="969.1" rx="5.0" ry="4.5" fill="#909090"/>
<ellipse cx="505.7" cy="895.5" rx="9.0" ry="9.0" fill="#6f6f6f"/>
<path d="M252.1 696.6C251.8 700.6 252.4 713.0 250.1 720.4C247.8 727.7 242.2 733.4 238.2 740.7C234.2 748.1 229.7 756.6 226.3 764.5C222.9 772.4 220.1 779.8 217.8 788.3C215.6 796.7 214.1 806.9 212.7 815.4C211.4 823.9 210.5 835.2 210.0 839.2" fill="none" stroke="#0c0c0c" stroke-width="11" stroke-linecap="round"/>
<path d="M254.2 733.9C257.3 729.1 263.5 729.1 266.0 730.5C268.6 732.0 270.9 738.2 269.4 742.4C268.0 746.7 261.2 753.2 257.6 756.0C253.9 758.8 247.9 763.1 247.4 759.4C246.8 755.7 251.1 738.8 254.2 733.9Z" fill="#909090"/>
<ellipse cx="209.4" cy="869.7" rx="5.4" ry="5.4" fill="#909090"/>
<path d="M457.1 725.5C458.6 722.5 463.1 722.5 464.6 725.5C466.1 728.5 466.1 738.3 466.2 743.6C466.2 748.9 466.7 754.9 465.0 757.1C463.3 759.4 457.6 759.4 456.0 757.1C454.4 754.9 455.3 748.9 455.5 743.6C455.7 738.3 455.6 728.5 457.1 725.5Z" fill="#484848"/></g>
<g filter="url(#b1)"><path d="M264.2 622.4C266.6 617.7 276.5 617.7 279.1 622.4C281.7 627.2 280.4 641.5 280.0 650.7C279.6 660.0 279.2 673.3 276.8 677.9C274.5 682.4 268.0 682.4 266.0 677.9C263.9 673.3 264.9 660.0 264.6 650.7C264.3 641.5 261.7 627.2 264.2 622.4Z" fill="#a4a4a4"/>
<ellipse cx="271.0" cy="653.0" rx="3.8" ry="7.2" fill="#dcdcdc"/>
<path d="M282.3 631.5C283.2 629.6 286.6 629.6 288.6 632.6C290.6 635.6 294.3 646.0 294.3 649.6C294.3 653.2 290.5 655.1 288.6 654.1C286.7 653.2 284.0 647.7 282.9 643.9C281.9 640.2 281.3 633.4 282.3 631.5Z" fill="#a0a0a0"/>
<path d="M257.8 621.3C258.3 615.7 260.4 615.7 261.0 621.3C261.6 627.0 261.2 644.7 261.4 655.2C261.7 665.8 262.4 676.4 262.4 684.7C262.3 693.0 261.5 698.6 261.0 705.0C260.5 711.4 259.9 720.1 259.2 723.1C258.4 726.1 256.6 726.9 256.5 723.1C256.3 719.4 257.9 706.9 258.3 700.5C258.7 694.1 258.8 692.2 258.7 684.7C258.7 677.1 258.2 665.8 258.1 655.2C257.9 644.7 257.3 627.0 257.8 621.3Z" fill="#0c0c0c"/>
<path d="M276.2 662.0C277.0 658.1 280.8 658.3 281.8 662.0C282.8 665.8 283.1 680.7 282.3 684.7C281.4 688.6 277.9 689.6 276.8 685.8C275.8 682.0 275.3 666.0 276.2 662.0Z" fill="#202020"/>
<path d="M249.0 620.2C249.8 616.2 253.7 616.2 254.7 620.2C255.6 624.1 255.5 640.0 254.7 643.9C253.8 647.9 250.6 647.9 249.7 643.9C248.7 640.0 248.2 624.1 249.0 620.2Z" fill="#909090"/>
<ellipse cx="461.6" cy="654.8" rx="2.0" ry="7.2" fill="#343434"/>
<ellipse cx="280.0" cy="915.2" rx="4.5" ry="3.4" fill="#9a9a9a"/></g>
</g>
<g clip-path="url(#clipS)"><g filter="url(#b3)"><rect x="280" y="560" width="105" height="62" fill="#6f6f6f"/>
<ellipse cx="306.9" cy="584.6" rx="15.6" ry="11.7" fill="#2d2d2d" transform="rotate(25 306.9 584.6)"/>
<ellipse cx="354.4" cy="583.8" rx="15.6" ry="10.9" fill="#2d2d2d" transform="rotate(-15 354.4 583.8)"/>
<ellipse cx="330.2" cy="569.8" rx="10.1" ry="9.3" fill="#bebebe"/>
<ellipse cx="329.5" cy="586.1" rx="4.7" ry="18.7" fill="#909090"/>
<ellipse cx="373.8" cy="586.1" rx="3.9" ry="14.0" fill="#979797" transform="rotate(10 373.8 586.1)"/>
<path d="M301.5 597.0C303.8 596.8 309.7 601.5 313.9 603.2C318.0 604.9 322.5 606.3 326.3 607.1C330.2 607.9 333.6 608.3 337.2 607.9C340.9 607.5 344.0 606.3 348.1 604.8C352.3 603.2 358.0 600.9 362.1 598.6C366.3 596.2 370.7 590.8 373.0 590.8C375.4 590.8 377.2 595.7 376.1 598.6C375.1 601.4 370.7 605.0 366.8 607.9C362.9 610.8 357.7 613.9 352.8 615.7C347.9 617.5 342.4 618.5 337.2 618.8C332.1 619.1 326.3 618.3 321.7 617.2C317.0 616.2 312.9 614.6 309.2 612.6C305.6 610.5 301.2 607.4 299.9 604.8C298.6 602.2 299.1 597.3 301.5 597.0Z" fill="#d2d2d2"/>
<ellipse cx="289.0" cy="575.2" rx="3.1" ry="10.9" fill="#3e3e3e" transform="rotate(-10 289.0 575.2)"/></g></g>
</g>
<g filter="url(#soft)"><polygon points="131,616 160,614.2 200,613.3 230,612.2 250,611.2 300,610.8 322,612 326,618.2 131,618.2" fill="#06fb06"/>
<rect x="126" y="604.7" width="3.2" height="3.2" fill="#3cb43c"/>
<rect x="133" y="613" width="2.5" height="2" fill="#06fb06"/><rect x="140" y="612.3" width="6" height="2.5" fill="#06fb06"/><rect x="150" y="612.6" width="4" height="2" fill="#06fb06"/>
<polygon points="249.8,576.5 267.0,576.5 267.3,594.3 272.1,594.9 272.4,603.2 269.6,607.0 269.8,614.0 242.8,614.0 243.1,607.6 249.8,606.4" fill="#06fb06"/>
<polygon points="237.7,603.8 242.2,603.8 242.4,614.0 237.5,614.0" fill="#06fb06"/>
<polygon points="276.6,604.7 280.4,604.7 280.6,614.0 276.3,614.0" fill="#06fb06"/>
<polygon points="268.9,610.8 303.9,611.5 304.6,618.5 268.9,618.5" fill="#06fb06"/>
<polygon points="293.7,603.2 298.8,601.9 306.5,607.0 306.5,618.5 296.3,618.5 295.6,609.6" fill="#06fb06"/>
<polygon points="272.7,586.0 276.6,586.0 276.8,592.4 273.0,592.4" fill="#22d822"/>
<polygon points="279.7,593.3 284.8,593.3 285.1,596.8 280.0,596.8" fill="#22d822"/>
<polygon points="286.1,596.8 291.2,597.1 291.4,600.0 286.4,600.0" fill="#22d822"/>
<polygon points="290.6,599.4 295.0,600.6 297.6,604.5 293.7,604.5" fill="#22d822"/>
<polygon points="268.9,596.2 272.1,597.5 272.4,600.0 269.6,599.4" fill="#22d822"/></g>
<g clip-path="url(#clipH)"><g filter="url(#b2)">
<ellipse cx="331.8" cy="617.3" rx="11.0" ry="7.0" fill="#00ff3d" opacity="1"/>
<ellipse cx="321.8" cy="610.8" rx="12.0" ry="4.5" fill="#00ff3d" transform="rotate(29 321.8 610.8)" opacity="1"/>
<ellipse cx="341.8" cy="610.8" rx="12.0" ry="4.5" fill="#00ff3d" transform="rotate(-29 341.8 610.8)" opacity="1"/>
<ellipse cx="325.3" cy="626.3" rx="5.5" ry="11.5" fill="#00ff3d" transform="rotate(34 325.3 626.3)" opacity="1"/>
<ellipse cx="337.8" cy="625.8" rx="5.2" ry="10.5" fill="#00ff3d" transform="rotate(-33 337.8 625.8)" opacity="1"/>
<ellipse cx="311.8" cy="615.3" rx="14.0" ry="3.5" fill="#00ff3d" transform="rotate(6 311.8 615.3)" opacity="1"/>
</g><g filter="url(#b1)">
<ellipse cx="331.8" cy="616.3" rx="9.5" ry="5.5" fill="#66ff00" opacity="1"/>
<ellipse cx="326.3" cy="624.3" rx="3.2" ry="7.5" fill="#3dff00" transform="rotate(34 326.3 624.3)" opacity="1"/>
<ellipse cx="336.8" cy="623.8" rx="3.0" ry="6.5" fill="#3dff00" transform="rotate(-33 336.8 623.8)" opacity="1"/>
<ellipse cx="331.8" cy="616.3" rx="7.0" ry="4.2" fill="#e0ff00" opacity="1"/>
<ellipse cx="331.8" cy="616.0" rx="4.2" ry="2.5" fill="#ffa300" opacity="1"/>
<ellipse cx="332.1" cy="615.8" rx="2.3" ry="1.4" fill="#ff5200" opacity="1"/>
</g></g>
<rect x="572.40" y="51.50" width="17.60" height="14.97" fill="#ff0000"/>
<rect x="572.40" y="66.17" width="17.60" height="17.97" fill="#ff2900"/>
<rect x="572.40" y="83.83" width="17.60" height="14.97" fill="#ff5200"/>
<rect x="572.40" y="98.50" width="17.60" height="17.97" fill="#ff7a00"/>
<rect x="572.40" y="116.16" width="17.60" height="14.97" fill="#ffa300"/>
<rect x="572.40" y="130.83" width="17.60" height="17.97" fill="#ffcc00"/>
<rect x="572.40" y="148.49" width="17.60" height="14.97" fill="#fff500"/>
<rect x="572.40" y="163.16" width="17.60" height="17.97" fill="#e0ff00"/>
<rect x="572.40" y="180.82" width="17.60" height="14.97" fill="#b8ff00"/>
<rect x="572.40" y="195.49" width="17.60" height="17.97" fill="#8fff00"/>
<rect x="572.40" y="213.15" width="17.60" height="14.97" fill="#66ff00"/>
<rect x="572.40" y="227.82" width="17.60" height="17.97" fill="#3dff00"/>
<rect x="572.40" y="245.48" width="17.60" height="14.97" fill="#14ff00"/>
<rect x="572.40" y="260.15" width="17.60" height="17.97" fill="#00ff14"/>
<rect x="572.40" y="277.82" width="17.60" height="14.97" fill="#00ff3d"/>
<rect x="572.40" y="292.48" width="17.60" height="17.97" fill="#00ff66"/>
<rect x="572.40" y="310.15" width="17.60" height="14.97" fill="#00ff8f"/>
<rect x="572.40" y="324.81" width="17.60" height="17.97" fill="#00ffb8"/>
<rect x="572.40" y="342.48" width="17.60" height="14.97" fill="#00ffe0"/>
<rect x="572.40" y="357.14" width="17.60" height="17.97" fill="#00faff"/>
<rect x="572.40" y="374.81" width="17.60" height="14.97" fill="#00d6ff"/>
<rect x="572.40" y="389.47" width="17.60" height="17.97" fill="#00b0ff"/>
<rect x="572.40" y="407.14" width="17.60" height="14.97" fill="#0086ff"/>
<rect x="572.40" y="421.80" width="17.60" height="17.97" fill="#005eff"/>
<rect x="572.40" y="439.47" width="17.60" height="14.97" fill="#0030ff"/>
<rect x="572.40" y="454.13" width="17.60" height="17.67" fill="#0000ff"/>
<rect x="572.40" y="84.03" width="17.60" height="1.1" fill="#000" opacity="0.33"/>
<rect x="572.40" y="116.36" width="17.60" height="1.1" fill="#000" opacity="0.33"/>
<rect x="572.40" y="148.69" width="17.60" height="1.1" fill="#000" opacity="0.33"/>
<rect x="572.40" y="181.02" width="17.60" height="1.1" fill="#000" opacity="0.33"/>
<rect x="572.40" y="213.35" width="17.60" height="1.1" fill="#000" opacity="0.33"/>
<rect x="572.40" y="245.68" width="17.60" height="1.1" fill="#000" opacity="0.33"/>
<rect x="572.40" y="278.02" width="17.60" height="1.1" fill="#000" opacity="0.33"/>
<rect x="572.40" y="310.35" width="17.60" height="1.1" fill="#000" opacity="0.33"/>
<rect x="572.40" y="342.68" width="17.60" height="1.1" fill="#000" opacity="0.33"/>
<rect x="572.40" y="375.01" width="17.60" height="1.1" fill="#000" opacity="0.33"/>
<rect x="572.40" y="407.34" width="17.60" height="1.1" fill="#000" opacity="0.33"/>
<rect x="572.40" y="439.67" width="17.60" height="1.1" fill="#000" opacity="0.33"/>
<rect x="572.90" y="52.00" width="16.60" height="419.30" fill="none" stroke="#000" stroke-opacity="0.22" stroke-width="1"/>
<rect x="571.40" y="571.00" width="17.20" height="14.92" fill="#ff0000"/>
<rect x="571.40" y="585.62" width="17.20" height="17.92" fill="#ff2900"/>
<rect x="571.40" y="603.25" width="17.20" height="14.92" fill="#ff5200"/>
<rect x="571.40" y="617.87" width="17.20" height="17.92" fill="#ff7a00"/>
<rect x="571.40" y="635.49" width="17.20" height="14.92" fill="#ffa300"/>
<rect x="571.40" y="650.12" width="17.20" height="17.92" fill="#ffcc00"/>
<rect x="571.40" y="667.74" width="17.20" height="14.92" fill="#fff500"/>
<rect x="571.40" y="682.36" width="17.20" height="17.92" fill="#e0ff00"/>
<rect x="571.40" y="699.98" width="17.20" height="14.92" fill="#b8ff00"/>
<rect x="571.40" y="714.61" width="17.20" height="17.92" fill="#8fff00"/>
<rect x="571.40" y="732.23" width="17.20" height="14.92" fill="#66ff00"/>
<rect x="571.40" y="746.85" width="17.20" height="17.92" fill="#3dff00"/>
<rect x="571.40" y="764.48" width="17.20" height="14.92" fill="#14ff00"/>
<rect x="571.40" y="779.10" width="17.20" height="17.92" fill="#00ff14"/>
<rect x="571.40" y="796.72" width="17.20" height="14.92" fill="#00ff3d"/>
<rect x="571.40" y="811.35" width="17.20" height="17.92" fill="#00ff66"/>
<rect x="571.40" y="828.97" width="17.20" height="14.92" fill="#00ff8f"/>
<rect x="571.40" y="843.59" width="17.20" height="17.92" fill="#00ffb8"/>
<rect x="571.40" y="861.22" width="17.20" height="14.92" fill="#00ffe0"/>
<rect x="571.40" y="875.84" width="17.20" height="17.92" fill="#00faff"/>
<rect x="571.40" y="893.46" width="17.20" height="14.92" fill="#00d6ff"/>
<rect x="571.40" y="908.08" width="17.20" height="17.92" fill="#00b0ff"/>
<rect x="571.40" y="925.71" width="17.20" height="14.92" fill="#0086ff"/>
<rect x="571.40" y="940.33" width="17.20" height="17.92" fill="#005eff"/>
<rect x="571.40" y="957.95" width="17.20" height="14.92" fill="#0030ff"/>
<rect x="571.40" y="972.58" width="17.20" height="17.62" fill="#0000ff"/>
<rect x="571.40" y="603.45" width="17.20" height="1.1" fill="#000" opacity="0.33"/>
<rect x="571.40" y="635.69" width="17.20" height="1.1" fill="#000" opacity="0.33"/>
<rect x="571.40" y="667.94" width="17.20" height="1.1" fill="#000" opacity="0.33"/>
<rect x="571.40" y="700.18" width="17.20" height="1.1" fill="#000" opacity="0.33"/>
<rect x="571.40" y="732.43" width="17.20" height="1.1" fill="#000" opacity="0.33"/>
<rect x="571.40" y="764.68" width="17.20" height="1.1" fill="#000" opacity="0.33"/>
<rect x="571.40" y="796.92" width="17.20" height="1.1" fill="#000" opacity="0.33"/>
<rect x="571.40" y="829.17" width="17.20" height="1.1" fill="#000" opacity="0.33"/>
<rect x="571.40" y="861.42" width="17.20" height="1.1" fill="#000" opacity="0.33"/>
<rect x="571.40" y="893.66" width="17.20" height="1.1" fill="#000" opacity="0.33"/>
<rect x="571.40" y="925.91" width="17.20" height="1.1" fill="#000" opacity="0.33"/>
<rect x="571.40" y="958.15" width="17.20" height="1.1" fill="#000" opacity="0.33"/>
<rect x="571.90" y="571.50" width="16.20" height="418.20" fill="none" stroke="#000" stroke-opacity="0.22" stroke-width="1"/>
<text x="599.5" y="68.1" font-size="29">1.20</text>
<text x="599.5" y="99.5" font-size="29">1.11</text>
<text x="599.5" y="130.9" font-size="29">1.01</text>
<text x="599.5" y="162.3" font-size="29">0.92</text>
<text x="599.5" y="193.7" font-size="29">0.83</text>
<text x="599.5" y="225.1" font-size="29">0.73</text>
<text x="599.5" y="256.5" font-size="29">0.65</text>
<text x="599.5" y="287.9" font-size="29">0.55</text>
<text x="599.5" y="319.3" font-size="29">0.46</text>
<text x="599.5" y="350.7" font-size="29">0.37</text>
<text x="599.5" y="382.1" font-size="29">0.28</text>
<text x="599.5" y="413.5" font-size="29">0.18</text>
<text x="599.5" y="444.9" font-size="29">0.09</text>
<text x="599.5" y="476.3" font-size="29">0</text>
<text x="597.0" y="585.7" font-size="29">6.64</text>
<text x="597.0" y="617.1" font-size="29">6.13</text>
<text x="597.0" y="648.4" font-size="29">5.62</text>
<text x="597.0" y="679.8" font-size="29">5.11</text>
<text x="597.0" y="711.1" font-size="29">4.60</text>
<text x="597.0" y="742.5" font-size="29">4.09</text>
<text x="597.0" y="773.9" font-size="29">3.58</text>
<text x="597.0" y="805.2" font-size="29">3.07</text>
<text x="597.0" y="836.6" font-size="29">2.56</text>
<text x="597.0" y="867.9" font-size="29">2.04</text>
<text x="597.0" y="899.3" font-size="29">1.53</text>
<text x="597.0" y="930.7" font-size="29">1.02</text>
<text x="597.0" y="962.0" font-size="29">0.51</text>
<text x="597.0" y="993.4" font-size="29">0</text>
<text><tspan x="556.5" y="35.9" font-size="28">应力</tspan><tspan x="613" y="35.3" font-size="29">/MPa</tspan></text>
<text><tspan x="556.5" y="552.4" font-size="28">应力</tspan><tspan x="613" y="551.8" font-size="29">/MPa</tspan></text>
<text><tspan x="178" y="528.7" font-size="29">(a)</tspan><tspan x="225.1" y="529.2" font-size="28.6">无射流辅助截割</tspan></text>
<text><tspan x="207.2" y="1035.6" font-size="29">(b)</tspan><tspan x="255.2" y="1036.1" font-size="28.6">脉冲射流辅助截割</tspan></text>
</svg></body></html>
